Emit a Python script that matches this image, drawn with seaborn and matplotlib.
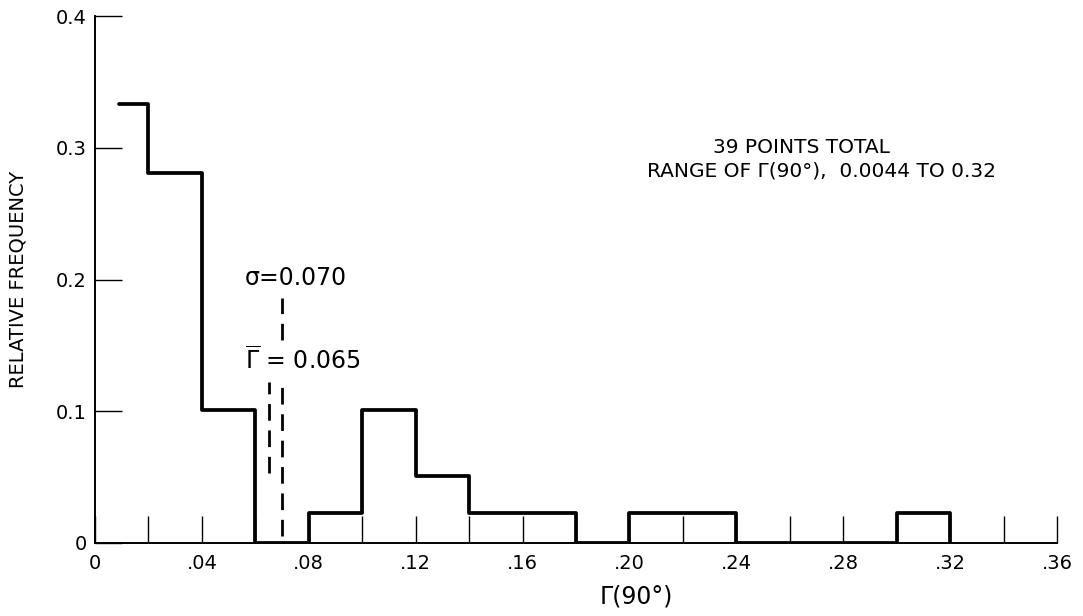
import matplotlib
matplotlib.use("Agg")
import numpy as np
import pandas as pd
import matplotlib.pyplot as plt
from matplotlib.ticker import MultipleLocator
import seaborn as sns

# histogram of Gamma(90 deg)
bin_left = [0.009, 0.02, 0.04, 0.06, 0.08, 0.10, 0.12, 0.14, 0.16, 0.18,
            0.20, 0.22, 0.24, 0.26, 0.28, 0.30]
rel_freq = [0.333, 0.281, 0.101, 0.0, 0.023, 0.101, 0.051, 0.023, 0.023, 0.0,
            0.023, 0.023, 0.0, 0.0, 0.0, 0.023]
last_edge = 0.32

gamma_mean = 0.065
sigma = 0.070

x_ticks = [0, 0.04, 0.08, 0.12, 0.16, 0.20, 0.24, 0.28, 0.32, 0.36]
x_labels = ["0", ".04", ".08", ".12", ".16", ".20", ".24", ".28", ".32", ".36"]
y_ticks = [0, 0.1, 0.2, 0.3, 0.4]
y_labels = ["0", "0.1", "0.2", "0.3", "0.4"]

sns.set_style("ticks")
plt.rcParams['font.family'] = ['DejaVu Sans']
plt.rcParams['text.color'] = 'black'
plt.rcParams['axes.labelcolor'] = 'black'
plt.rcParams['xtick.color'] = 'black'
plt.rcParams['ytick.color'] = 'black'

df = pd.DataFrame({"x": bin_left + [last_edge], "y": rel_freq + [0.0]})

fig = plt.figure(figsize=(10.83, 6.16), dpi=100)
ax = fig.add_axes([95 / 1083, 73 / 616, 962 / 1083, 527 / 616])

sns.lineplot(data=df, x="x", y="y", drawstyle="steps-post", color="black",
             linewidth=2.7, ax=ax)

# mean and sigma markers
ax.plot([gamma_mean, gamma_mean], [0.053, 0.122], color="black", lw=2.0,
        dashes=(6, 3.5))
ax.plot([sigma, sigma], [0.005, 0.122], color="black", lw=2.0, dashes=(6, 3.5))
ax.plot([sigma, sigma], [0.154, 0.186], color="black", lw=2.0, dashes=(6, 3.5))

ax.text(0.056, 0.201, "σ=0.070", fontsize=17, va="center", ha="left")
ax.text(0.056, 0.139, r"$\overline{\Gamma}$ = 0.065", fontsize=17,
        va="center", ha="left")

ax.text(0.2642, 0.300, "39 POINTS TOTAL", fontsize=14.5, ha="center",
        va="center")
ax.text(0.272, 0.282, "RANGE OF Γ(90°),  0.0044 TO 0.32", fontsize=14.5,
        ha="center", va="center")

ax.set_xlim(0, 0.36)
ax.set_ylim(0, 0.4)
ax.set_xticks(x_ticks)
ax.set_xticklabels(x_labels, fontsize=14)
ax.xaxis.set_minor_locator(MultipleLocator(0.02))
ax.set_yticks(y_ticks)
ax.set_yticklabels(y_labels, fontsize=14)

ax.tick_params(axis="both", which="both", direction="in", length=19.5,
               width=1.0, color="black")
ax.tick_params(axis="x", pad=8)
ax.tick_params(axis="y", pad=6)

sns.despine(ax=ax)
for s in ["left", "bottom"]:
    ax.spines[s].set_linewidth(1.4)
    ax.spines[s].set_color("black")

ax.set_xlabel("Γ(90°)", fontsize=17)
ax.xaxis.set_label_coords(0.563, -0.078)
ax.set_ylabel("RELATIVE FREQUENCY", fontsize=14)
ax.yaxis.set_label_coords(-0.070, 0.5)

fig.savefig("out.png", dpi=100)
